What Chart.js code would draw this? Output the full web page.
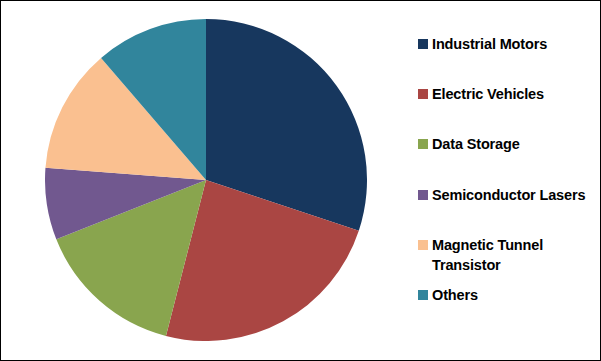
<!DOCTYPE html>
<html><head><meta charset="utf-8">
<script src="https://cdn.jsdelivr.net/npm/chart.js@4"></script>
<style>
html,body{margin:0;padding:0;background:#fff;}
#frame{position:relative;width:599px;height:359px;border:1px solid #000;overflow:hidden;background:#fff;}
#pie{position:absolute;left:44px;top:18px;}
.item{position:absolute;left:417px;font-family:"Liberation Sans",Arial,sans-serif;font-weight:bold;font-size:14.5px;line-height:20px;color:#000;width:180px;}
.sw{position:absolute;left:0;top:5px;width:10px;height:10px;}
.tx{margin-left:14px;display:block;letter-spacing:-0.15px;}
</style></head>
<body>
<div id="frame">
  <canvas id="pie" width="322" height="322"></canvas>
  <div id="legend"></div>
</div>
<script>
const categories = ["Industrial Motors","Electric Vehicles","Data Storage","Semiconductor Lasers","Magnetic Tunnel Transistor","Others"];
const shares = [30.1, 23.9, 15.0, 7.2, 12.5, 11.3];
const colors = ["#17375E","#AA4643","#89A54E","#71588F","#FAC090","#31859C"];

new Chart(document.getElementById('pie'), {
  type: 'pie',
  data: { labels: categories, datasets: [{ data: shares, backgroundColor: colors, borderWidth: 0 }] },
  options: {
    responsive: false, animation: false,
    layout: { padding: 0 },
    plugins: { legend: { display: false }, tooltip: { enabled: false } }
  }
});

const lg = document.getElementById('legend');
categories.forEach((c, i) => {
  const d = document.createElement('div');
  d.className = 'item';
  d.style.top = (33 + i * 50.2) + 'px';
  const s = document.createElement('span'); s.className = 'sw'; s.style.background = colors[i];
  const t = document.createElement('span'); t.className = 'tx';
  t.innerHTML = c === "Magnetic Tunnel Transistor" ? "Magnetic Tunnel<br>Transistor" : c;
  d.appendChild(s); d.appendChild(t); lg.appendChild(d);
});
</script>
</body></html>
